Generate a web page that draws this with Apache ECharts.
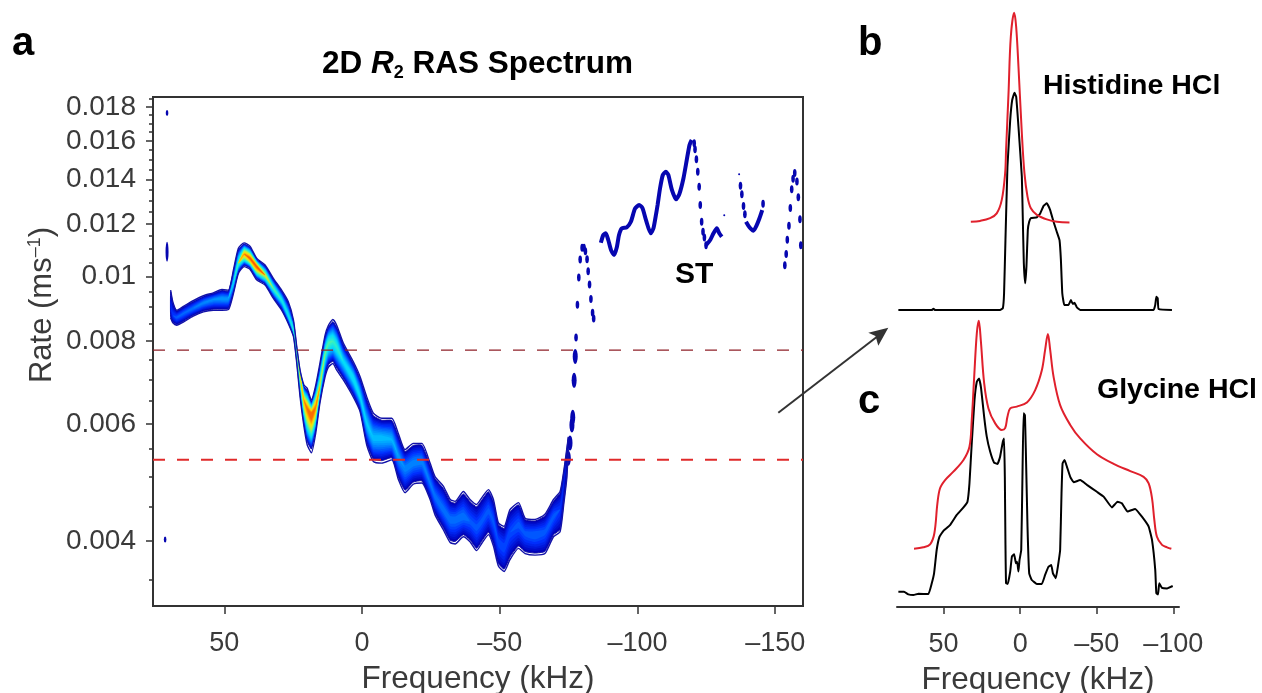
<!DOCTYPE html>
<html>
<head>
<meta charset="utf-8">
<title>2D R2 RAS Spectrum</title>
<script src="https://cdn.jsdelivr.net/npm/echarts@6/dist/echarts.min.js"></script>
<style>
    html, body { margin: 0; padding: 0; background: #fff; }
    #main { width: 1262px; height: 693px; }
</style>
</head>
<body>
<div id="main"></div>
<script>
// panel a, central transition band. rates are in units of 10^-3 ms^-1
var bandFreq = [69.5, 68.7, 67.3, 64.9, 61.3, 57.6, 54.0, 50.9, 48.5, 46.7,
    44.9, 42.8, 40.7, 38.2, 35.2, 32.2, 29.2, 26.8, 24.9, 23.7,
    22.5, 21.1, 19.9, 18.4, 16.8, 15.3, 13.4, 12.2, 10.6, 9.2,
    6.8, 3.2, 0.7, -1.7, -4.1, -7.2, -10.8, -13.2, -15.6, -18.6,
    -21.7, -24.7, -26.5, -29.5, -32.0, -33.8, -36.8, -39.2, -41.6, -43.5,
    -45.9, -47.7, -49.5, -51.6, -53.7, -56.8, -59.2, -62.8, -66.4, -69.5,
    -71.9, -73.3, -74.3, -74.9];
var bandTop = [9.54, 9.16, 8.90, 9.02, 9.20, 9.36, 9.45, 9.56, 9.54, 10.23,
    11.03, 11.24, 11.11, 10.65, 10.41, 9.94, 9.54, 9.17, 8.60, 7.84,
    7.23, 6.87, 6.79, 6.52, 6.87, 7.40, 8.17, 8.45, 8.62, 8.45,
    7.94, 7.45, 7.07, 6.59, 6.23, 6.12, 6.12, 5.80, 5.49, 5.61,
    5.61, 5.24, 5.00, 4.84, 4.62, 4.59, 4.75, 4.62, 4.54, 4.65,
    4.78, 4.62, 4.26, 4.21, 4.46, 4.57, 4.33, 4.31, 4.39, 4.62,
    4.75, 5.12, 5.49, 5.74];
var bandRidge = [9.02, 8.74, 8.68, 8.80, 8.96, 9.13, 9.24, 9.27, 9.27, 9.77,
    10.47, 10.81, 10.65, 10.35, 10.05, 9.60, 9.22, 8.74, 8.31, 7.71,
    7.11, 6.52, 6.33, 6.20, 6.37, 6.83, 7.66, 7.94, 7.99, 7.84,
    7.45, 7.03, 6.59, 6.02, 5.72, 5.72, 5.68, 5.36, 5.15, 5.24,
    5.27, 4.89, 4.67, 4.46, 4.31, 4.31, 4.35, 4.28, 4.19, 4.28,
    4.44, 4.28, 3.99, 3.91, 4.12, 4.23, 4.11, 4.09, 4.13, 4.35,
    4.46, 4.91, 5.33, 5.62];
var bandBottom = [8.66, 8.52, 8.45, 8.54, 8.72, 8.85, 8.90, 8.90, 8.92, 9.43,
    10.11, 10.35, 10.26, 9.88, 9.71, 9.27, 8.90, 8.50, 8.12, 7.40,
    6.59, 5.95, 5.58, 5.43, 5.82, 6.45, 7.07, 7.31, 7.40, 7.23,
    6.99, 6.59, 6.26, 5.58, 5.27, 5.24, 5.30, 4.95, 4.73, 4.87,
    4.89, 4.62, 4.38, 4.16, 3.98, 3.96, 4.06, 3.99, 3.87, 3.97,
    4.09, 3.93, 3.67, 3.60, 3.75, 3.90, 3.83, 3.81, 3.83, 4.06,
    4.13, 4.57, 4.95, 5.49];
// relative intensity on the ridge, 0 to 1
var bandPeak = [0.12, 0.15, 0.2, 0.22, 0.24, 0.27, 0.28, 0.3, 0.3, 0.4,
    0.55, 0.85, 0.95, 0.97, 0.72, 0.55, 0.47, 0.45, 0.5, 0.6,
    0.7, 0.85, 0.92, 1, 0.9, 0.7, 0.58, 0.55, 0.52, 0.5,
    0.42, 0.45, 0.42, 0.38, 0.36, 0.36, 0.34, 0.3, 0.27, 0.27,
    0.27, 0.25, 0.24, 0.24, 0.24, 0.24, 0.24, 0.2, 0.2, 0.2,
    0.2, 0.2, 0.18, 0.18, 0.18, 0.2, 0.2, 0.22, 0.2, 0.2,
    0.15, 0.1, 0.05, 0.02];

// steep side of the band, separate dots
var riseFreq = [-74.9, -75.5, -76.2, -76.5, -77, -77.4];
var riseRate = [5.33, 5.62, 5.98, 6.14, 6.98, 7.58];
// ST region, dotted parts
var stDotFreq = [-77.7, -78.2, -78.7, -79.2, -79.9, -80.6, -81.1, -81.7, -82.1, -82.6, -83.1, -83.7, -84.1,
    -120.6, -120.9, -121.4, -121.9, -122.4, -122.8, -123.3, -123.8, -124.3, -124.9,
    -137.4, -137.9, -138.5, -139, -145.6,
    -153.5, -154, -154.4, -155, -155.5, -156, -156.5, -157.1, -157.9, -158.4, -159, -159.3];
var stDotRate = [8.10, 9.07, 9.97, 10.61, 11.05, 11.05, 10.92, 10.62, 10.19, 9.73, 9.25, 8.82, 8.65,
    15.87, 15.54, 15.01, 14.38, 13.65, 12.81, 12.09, 11.68, 11.45, 11.15,
    13.7, 13.3, 12.77, 12.41, 12.87,
    10.4, 10.81, 11.36, 11.93, 12.68, 13.53, 14.03, 14.32, 13.9, 13.16, 12.2, 11.15];
// ST region, unbroken parts
var stFreqA = [-86.7, -87.6, -88.5, -89.4, -90.4, -91.5, -92.5, -93.3, -94.3, -96.1,
    -97.6, -99.1, -100.6, -101.8, -103.1, -104.8, -105.8, -106.8, -107.3, -108.2,
    -109.2, -110.3, -111.2, -112.5, -114, -115.2, -116.7, -117.9, -118.9, -119.7];
var stRateA = [11.24, 11.55, 11.62, 11.35, 10.96, 10.78, 11.07, 11.55, 11.82, 11.86,
    12.09, 12.65, 12.82, 12.68, 12.16, 11.62, 11.82, 12.45, 12.81, 13.58,
    14.22, 14.38, 14.22, 13.5, 13.07, 13.31, 14.06, 14.98, 15.78, 16.05];
var stFreqB = [-124.9, -126.4, -127.6, -128.8, -129.7, -130.6];
var stRateB = [11.15, 11.35, 11.62, 11.82, 11.62, 11.48];
var stFreqC = [-139.4, -140.3, -141.2, -142.1, -143.1, -144.3, -145.3];
var stRateC = [12.09, 11.92, 11.8, 11.72, 11.9, 12.24, 12.59];
// small stray marks
var speckFreq = [70.8, 70.8, 71.5, -131.5, -136.9];
var speckRate = [17.62, 10.9, 4.02, 12.37, 14.26];

var guideRates = [7.75, 5.30];
var freqTicksA = [50, 0, -50, -100, -150];
var freqTicksC = [50, 0, -50, -100];
var rateTicks = [0.004, 0.006, 0.008, 0.01, 0.012, 0.014, 0.016, 0.018];
var rateMinorTicks = [0.0035, 0.0045, 0.005, 0.0055, 0.0065, 0.007, 0.0075, 0.0085, 0.009, 0.0095, 0.0105,
    0.011, 0.0115, 0.0125, 0.013, 0.0135, 0.0145, 0.015, 0.0155, 0.0165, 0.017, 0.0175, 0.0185];

// panel b, Histidine HCl (intensity in arbitrary units)
var hisExpFreq = [79.5, 57.7, 56.6, 55.5, 13.1, 11.3, 10.5, 9.6, 8.3, 6.5, 5.2, 3.7, 2.6, 1.1, -1.1, -1.7, -2.4, -3.3, -4.1, -5,
    -5.9, -7, -10.9, -13.1, -15.3, -17.4, -19.6, -21.8, -23.9, -25.7, -26.6, -27.5, -28.8, -31.6, -33.1, -34.4, -35.5, -37, -39.2, -87.1,
    -88.2, -88.9, -89.8, -90.4, -99.1];
var hisExpInt = [0, 0, 0.4, 0, 0, 0.6, 5.6, 23.3, 47.8, 63.3, 70, 72.4, 71.1, 61.1, 44.4, 31.1, 15.6, 8.9, 14.4, 26.7,
    29.4, 30.6, 30.9, 32.2, 34.7, 35.6, 33.3, 29.4, 26.1, 23.3, 16.7, 5.6, 1.7, 1.7, 3.3, 2, 2.4, 0.9, 0, 0,
    1.7, 4.4, 3.9, 0.3, 0];
var hisSimFreq = [32.2, 26.1, 19.6, 15.3, 12, 9.8, 9.2, 7.6, 6.1, 3.9, 2.6, 1.1, -1.1, -2.8, -4.8, -7, -10.9, -17.4, -24, -32.2];
var hisSimInt = [29.4, 29.7, 30.6, 32.2, 36.7, 45.6, 53.3, 72.2, 91.1, 99.1, 94.4, 81.1, 58.9, 45.6, 37.8, 33.9, 31.7, 30.2, 29.4, 29.2];

// panel c, Glycine HCl
var glyExpFreq = [79.5, 75.8, 73, 69.7, 66.4, 59.9, 57.7, 56.2, 54.5, 52.7, 50.1, 45.8, 41.4, 37, 34.4, 33.1, 31.6, 29.8, 28.3, 26.8,
    25.5, 23.5, 21.8, 19.6, 17, 14.8, 13.1, 11.3, 10.5, 10, 9.6, 9.2, 8.1, 6.5, 5.4, 3.9, 2.8, 2, 1.1, 0.4,
    -0.7, -1.5, -2.2, -3.1, -3.7, -4.8, -5.9, -7.6, -10.9, -14.2, -16.3, -18.5, -20.3, -21.4, -23.3, -24.6, -26.1, -27, -27.7, -29,
    -30.5, -32.7, -34.9, -39.2, -43.6, -50.1, -54.5, -59.9, -63.6, -66.4, -70.1, -75.1, -79.5, -83.9, -86.1, -88.2, -88.9, -90, -90.8, -92.6,
    -95.9, -99.6];
var glyExpInt = [5.1, 5.1, 4.2, 4, 4.4, 4.3, 7.9, 11.2, 19, 23.4, 25.4, 27.3, 30.7, 33.2, 35.1, 41.2, 54.6, 69, 75.1, 76.2,
    72.9, 63.4, 56.8, 51.8, 48.1, 47.7, 50.1, 55.1, 56.2, 43.4, 21.2, 7.9, 7.7, 11.8, 16.8, 17.6, 14.6, 15.1, 11.8, 15.7,
    19, 43.4, 64.6, 64, 52.3, 26.8, 11.2, 9, 7.7, 7.7, 10.7, 13.4, 14, 11.2, 9.6, 13.4, 19, 37.9, 47.9, 49,
    46.8, 43.4, 41.6, 42.3, 40.7, 38.4, 36.8, 33.2, 35.1, 34.6, 31.8, 32.7, 30.1, 26.8, 22.3, 12.3, 4.6, 4.2, 7.9, 6.4,
    6.2, 7];
var glySimFreq = [69.3, 63.2, 58.8, 56, 54, 52.3, 49, 43.6, 37, 33.1, 31.6, 30, 28.3, 27, 25.7, 23.5, 20.7, 16.3, 12, 9.8,
    8.3, 6.5, 2.2, -4.4, -9.8, -14.2, -16.3, -18.1, -19.6, -21.8, -26.1, -32.7, -39.2, -50.1, -61, -71.9, -80.6, -83.9, -86.1, -87.6,
    -89.3, -92.6, -95.9, -98.7];
var glySimInt = [19.4, 19.9, 20.9, 24.6, 34.6, 39.6, 42.3, 45.1, 49, 53.4, 62.3, 76.8, 91.2, 95.4, 89, 74.6, 66.2, 61.2, 59, 59.6,
    63.4, 66.2, 66.8, 68.2, 72.3, 79, 85.7, 91, 85.7, 76.8, 67.3, 60.7, 56.2, 50.9, 47.7, 45.3, 43.4, 41.2, 36.2, 29,
    23.4, 20.7, 19.9, 19.4];

var contourLevels = [];
for (var n = 0; n < 34; n++) {
    contourLevels.push([n * 0.03]);
}
var jetStops = ['#0000b8', '#0030ff', '#0088ff', '#00d8ff', '#30f0c8', '#a8f058', '#ffe000', '#ff8000', '#f02000'];
var bandBlue = '#1212a8';
var dotBlue = '#0606b0';
var ellipse = 'path://M0,-1A1,1 0 1,1 0,1A1,1 0 1,1 0,-1Z';
var textGrey = '#3a3a3a';
var fontName = 'Liberation Sans';

function rate(v) {
    return v * 0.001;
}

function pairs(xs, ys, scale) {
    return xs.map(function (x, i) {
        return [x, scale ? scale(ys[i]) : ys[i]];
    });
}

// filled contour of the band at one intensity level
function renderContour(params, api) {
    var level = api.value(0);
    var color = echarts.color.lerp(level, jetStops);
    var children = [];
    var run = [];

    function edge(i, limit, t) {
        var v = bandRidge[i] * Math.pow(limit[i] / bandRidge[i], t);
        return api.coord([bandFreq[i], rate(v)]);
    }

    function reach(i) {
        return 0.9 * Math.pow(1 - level / bandPeak[i], 0.8);
    }

    function flush() {
        if (run.length > 1) {
            var upper = [];
            var lower = [];
            run.forEach(function (i) {
                upper.push(edge(i, bandTop, reach(i)));
                lower.unshift(edge(i, bandBottom, reach(i)));
            });
            var first = run[0] - 1;
            var last = run[run.length - 1] + 1;
            var points = upper;
            if (last < bandFreq.length) points = points.concat([edge(last, bandTop, 0)]);
            points = points.concat(lower);
            if (first >= 0) points = points.concat([edge(first, bandTop, 0)]);
            children.push({
                type: 'polygon',
                shape: {points: points, smooth: 0.15},
                style: level === 0 ? {fill: color, stroke: bandBlue, lineWidth: 1} : {fill: color}
            });
        }
        run = [];
    }

    bandPeak.forEach(function (peak, i) {
        if (peak > level) {
            run.push(i);
        } else {
            flush();
        }
    });
    flush();
    return {type: 'group', children: children};
}

function bandLine(limit) {
    return {
        type: 'line',
        data: pairs(bandFreq, limit, rate),
        showSymbol: false,
        smooth: 0.2,
        lineStyle: {color: bandBlue, width: 1.4}
    };
}

function stLine(xs, ys) {
    return {
        type: 'line',
        data: pairs(xs, ys, rate),
        showSymbol: false,
        smooth: 0.2,
        lineStyle: {color: dotBlue, width: 4}
    };
}

function guideLine(v, color, width) {
    return {
        type: 'line',
        data: [[75.9, rate(v)], [-160.1, rate(v)]],
        showSymbol: false,
        silent: true,
        lineStyle: {color: color, width: width, type: [12, 12]}
    };
}

function spectrum(xs, ys, color, axisIndex, smooth) {
    return {
        type: 'line',
        xAxisIndex: axisIndex,
        yAxisIndex: axisIndex + 1,
        data: pairs(xs, ys),
        showSymbol: false,
        smooth: smooth,
        lineStyle: {color: color, width: 2}
    };
}

function freqLabel(v) {
    return v < 0 ? '\u2013' + Math.abs(v) : String(v);
}

function label(text, x, y, size) {
    return {
        type: 'text',
        left: x,
        top: y,
        style: {
            text: text,
            fill: '#000',
            font: 'bold ' + size + 'px "' + fontName + '"'
        }
    };
}

var myChart = echarts.init(document.getElementById('main'), null, {renderer: 'canvas'});

var option = {
    animation: false,
    backgroundColor: '#fff',
    textStyle: {fontFamily: fontName},
    title: {
        text: '{b|2D }{i|R}{s|2}{b| RAS Spectrum}',
        left: 317,
        top: 41,
        textStyle: {
            rich: {
                b: {fontSize: 31.5, fontWeight: 'bold', fontFamily: fontName, color: '#000'},
                i: {fontSize: 31.5, fontWeight: 'bold', fontStyle: 'italic', fontFamily: fontName, color: '#000'},
                s: {fontSize: 18, fontWeight: 'bold', fontFamily: fontName, color: '#000', padding: [18, 0, 0, 0]}
            }
        }
    },
    grid: [
        {left: 153, right: 459, top: 97, bottom: 87, show: true, borderColor: '#333', borderWidth: 2, outerBoundsMode: 'none'},
        {left: 897, right: 83, top: 10, height: 300, outerBoundsMode: 'none'},
        {left: 897, right: 83, top: 307, height: 300, outerBoundsMode: 'none'}
    ],
    xAxis: [
        {
            type: 'value',
            gridIndex: 0,
            inverse: true,
            min: -160.1,
            max: 75.9,
            name: 'Frequency (kHz)',
            nameLocation: 'middle',
            nameGap: 57,
            nameTextStyle: {fontSize: 31.5, color: textGrey},
            splitLine: {show: false},
            axisLine: {onZero: false, lineStyle: {color: '#333', width: 2}},
            axisTick: {customValues: freqTicksA, length: 8, lineStyle: {color: '#333', width: 1.5}},
            axisLabel: {customValues: freqTicksA, formatter: freqLabel, fontSize: 27, color: textGrey, margin: 24}
        },
        {type: 'value', gridIndex: 1, inverse: true, min: -103.7, max: 80.4, show: false},
        {
            type: 'value',
            gridIndex: 2,
            inverse: true,
            min: -103.7,
            max: 80.4,
            name: 'Frequency (kHz)',
            nameLocation: 'middle',
            nameGap: 57,
            nameTextStyle: {fontSize: 31.5, color: textGrey},
            splitLine: {show: false},
            axisLine: {onZero: false, lineStyle: {color: '#333', width: 2}},
            axisTick: {customValues: freqTicksC, length: 7, lineStyle: {color: '#333', width: 1.5}},
            axisLabel: {customValues: freqTicksC, formatter: freqLabel, fontSize: 27, color: textGrey, margin: 24}
        }
    ],
    yAxis: [
        {
            type: 'log',
            gridIndex: 0,
            min: 0.003194,
            max: 0.01863,
            splitLine: {show: false},
            axisLine: {show: true, onZero: false, lineStyle: {color: '#333', width: 2}},
            axisTick: {customValues: rateTicks, length: 7, lineStyle: {color: '#333', width: 1.5}},
            axisLabel: {
                customValues: rateTicks,
                formatter: function (v) {
                    return String(+v.toFixed(3));
                },
                fontSize: 28,
                color: textGrey,
                margin: 17,
                padding: [4, 0, 0, 0]
            }
        },
        {
            type: 'log',
            gridIndex: 0,
            position: 'left',
            min: 0.003194,
            max: 0.01863,
            splitLine: {show: false},
            axisLine: {show: false, onZero: false},
            axisTick: {customValues: rateMinorTicks, length: 4, lineStyle: {color: '#333', width: 1.5}},
            axisLabel: {show: false}
        },
        {type: 'value', gridIndex: 1, min: 0, max: 100, show: false},
        {type: 'value', gridIndex: 2, min: 0, max: 100, show: false}
    ],
    series: [
        {
            type: 'custom',
            renderItem: renderContour,
            data: contourLevels,
            clip: true,
            silent: true
        },
        bandLine(bandTop),
        bandLine(bandBottom),
        stLine(stFreqA, stRateA),
        stLine(stFreqB, stRateB),
        stLine(stFreqC, stRateC),
        {
            type: 'scatter',
            data: pairs(riseFreq, riseRate, rate),
            symbol: ellipse,
            symbolSize: [5, 15],
            itemStyle: {color: dotBlue, opacity: 1}
        },
        {
            type: 'scatter',
            data: pairs(stDotFreq, stDotRate, rate),
            symbol: ellipse,
            symbolSize: [3.6, 8],
            itemStyle: {color: dotBlue, opacity: 1}
        },
        {
            type: 'scatter',
            data: pairs(speckFreq, speckRate, rate),
            symbol: ellipse,
            symbolSize: function (v, params) {
                return params.dataIndex === 1 ? [3, 20] : (params.dataIndex < 3 ? [2.6, 6] : [2, 2]);
            },
            itemStyle: {color: dotBlue, opacity: 1}
        },
        guideLine(guideRates[0], '#8f2028', 1.2),
        guideLine(guideRates[1], '#e02a2a', 2),
        spectrum(hisExpFreq, hisExpInt, '#000', 1, 0.1),
        spectrum(hisSimFreq, hisSimInt, '#e0202c', 1, 0.35),
        spectrum(glyExpFreq, glyExpInt, '#000', 2, 0.1),
        spectrum(glySimFreq, glySimInt, '#e0202c', 2, 0.35)
    ],
    graphic: [
        label('a', 12, 24, 40),
        label('b', 858, 24, 40),
        label('c', 858, 382, 40),
        label('ST', 675, 260, 30),
        label('Histidine HCl', 1043, 72, 28.5),
        label('Glycine HCl', 1097, 376, 28.5),
        {
            type: 'text',
            x: 42,
            y: 305,
            rotation: Math.PI / 2,
            style: {
                text: '{n|Rate (ms}{u|\u20131}{n|)}',
                align: 'center',
                verticalAlign: 'middle',
                rich: {
                    n: {fontSize: 31, fill: textGrey, fontFamily: fontName},
                    u: {fontSize: 18, fill: textGrey, fontFamily: fontName, padding: [0, 0, 14, 0]}
                }
            }
        },
        // arrow from panel a towards panels b and c
        {
            type: 'line',
            shape: {x1: 778.3, y1: 412.7, x2: 878, y2: 336},
            style: {stroke: '#333', lineWidth: 2}
        },
        {
            type: 'polygon',
            shape: {points: [[888.3, 327.7], [868.3, 332.7], [875.5, 336], [878.3, 345.7]]},
            style: {fill: '#333'}
        }
    ]
};

option && myChart.setOption(option);
</script>
</body>
</html>
